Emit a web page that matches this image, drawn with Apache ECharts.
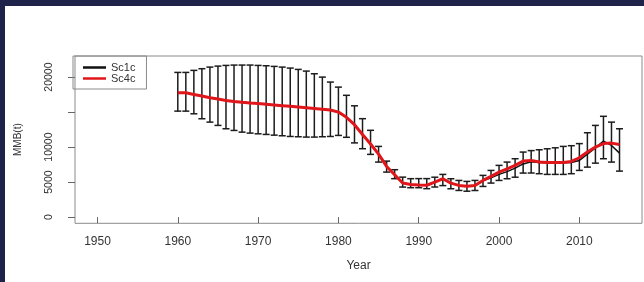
<!DOCTYPE html>
<html>
<head>
<meta charset="utf-8">
<script src="https://cdn.jsdelivr.net/npm/echarts@6.0.0/dist/echarts.min.js"></script>
<style>
  html, body { margin: 0; padding: 0; background: #1f2249; overflow: hidden; }
  #chart { position: absolute; left: 5px; top: 6px; width: 640px; height: 276px; background: #fff; }
</style>
</head>
<body>
<div id="chart"></div>
<script>
const years = [1960, 1961, 1962, 1963, 1964, 1965, 1966, 1967, 1968, 1969,
  1970, 1971, 1972, 1973, 1974, 1975, 1976, 1977, 1978, 1979,
  1980, 1981, 1982, 1983, 1984, 1985, 1986, 1987, 1988, 1989,
  1990, 1991, 1992, 1993, 1994, 1995, 1996, 1997, 1998, 1999,
  2000, 2001, 2002, 2003, 2004, 2005, 2006, 2007, 2008, 2009,
  2010, 2011, 2012, 2013, 2014, 2015];

// Sc1c confidence interval
const upper = [20670, 20670, 20960, 21200, 21430, 21570, 21670, 21720, 21720, 21720,
  21670, 21620, 21530, 21430, 21290, 21100, 20860, 20480, 20000, 19290,
  18570, 17400, 15900, 14060, 12400, 10100, 8000, 6770, 5710, 5490,
  5500, 5500, 5700, 6100, 5480, 5240, 5100, 5240, 5960, 6670,
  7390, 7860, 8340, 9290, 9500, 9620, 9760, 9900, 10100, 10200,
  10500, 12050, 13100, 14400, 13570, 12620];
const lower = [15140, 15140, 14760, 14050, 13570, 13100, 12620, 12380, 12140, 12000,
  11900, 11810, 11710, 11620, 11520, 11480, 11430, 11430, 11480, 11520,
  11670, 11400, 10600, 9770, 8960, 7860, 6430, 5490, 4290, 4200,
  4200, 4060, 4300, 4500, 4050, 3810, 3700, 3800, 4380, 4860,
  5240, 5480, 5700, 6290, 6300, 6200, 6100, 6100, 6100, 6200,
  6670, 7140, 7710, 8340, 7860, 6570];

const sc1c = [17760, 17760, 17520, 17290, 17050, 16860, 16670, 16520, 16400, 16300,
  16220, 16120, 16020, 15920, 15820, 15720, 15620, 15520, 15420, 15300,
  15000, 14250, 13200, 11800, 10450, 9000, 7240, 6060, 4860, 4670,
  4600, 4550, 5000, 5480, 4860, 4530, 4400, 4500, 5200, 5600,
  6100, 6500, 7000, 7600, 7900, 7800, 7750, 7750, 7750, 7800,
  8100, 9000, 9900, 10860, 10240, 9140];
const sc4c = [17760, 17760, 17520, 17290, 17050, 16860, 16670, 16520, 16400, 16300,
  16220, 16120, 16020, 15920, 15820, 15720, 15620, 15520, 15420, 15300,
  15000, 14250, 13200, 11800, 10450, 9000, 7240, 6060, 4860, 4670,
  4600, 4550, 5000, 5480, 4860, 4530, 4400, 4500, 5240, 5810,
  6430, 6900, 7390, 8000, 8100, 7860, 7800, 7800, 7800, 7950,
  8480, 9290, 10000, 10500, 10570, 10380];

const xTicks = [1950, 1960, 1970, 1980, 1990, 2000, 2010];
const yTicks = [0, 5000, 10000, 15000, 20000];
const yLabels = [0, 5000, 10000, 20000];

const chart = echarts.init(document.getElementById('chart'));
const font = 'Liberation Sans, Arial, sans-serif';

const option = {
  animation: false,
  grid: {
    left: 68, top: 50, right: 3, bottom: 58.7,
    show: true, borderColor: '#8a8a8a', borderWidth: 1
  },
  legend: {
    left: 68, top: 50,
    orient: 'vertical',
    data: ['Sc1c', 'Sc4c'],
    icon: 'rect',
    itemWidth: 23, itemHeight: 2.5,
    itemGap: 0,
    itemTextGap: 8,
    padding: [6, 11, 5, 10],
    borderColor: '#8a8a8a', borderWidth: 1,
    textStyle: { fontFamily: font, fontSize: 11, color: '#333', lineHeight: 10 }
  },
  xAxis: {
    type: 'value',
    min: 1947.2, max: 2017.8,
    name: 'Year',
    nameLocation: 'middle',
    nameGap: 36,
    nameTextStyle: { fontFamily: font, fontSize: 12, color: '#333' },
    axisLine: { show: false },
    splitLine: { show: false },
    axisTick: { show: true, length: 6, lineStyle: { color: '#666' }, customValues: xTicks },
    axisLabel: { fontFamily: font, fontSize: 12, color: '#333', margin: 12,
      customValues: xTicks, formatter: v => String(v) }
  },
  yAxis: {
    type: 'value',
    min: -885, max: 23015,
    name: 'MMB(t)',
    nameLocation: 'middle',
    nameRotate: 90,
    nameGap: 52,
    nameTextStyle: { fontFamily: font, fontSize: 10, color: '#333' },
    axisLine: { show: false },
    splitLine: { show: false },
    axisTick: { show: true, length: 7, lineStyle: { color: '#666' }, customValues: yTicks },
    axisLabel: { fontFamily: font, fontSize: 10.5, color: '#333', rotate: 90, margin: 20,
      customValues: yLabels, formatter: v => String(v) }
  },
  series: [
    {
      name: 'CI',
      type: 'custom',
      data: years.map((y, i) => [y, lower[i], upper[i]]),
      renderItem: function (params, api) {
        const lo = api.coord([api.value(0), api.value(1)]);
        const hi = api.coord([api.value(0), api.value(2)]);
        const w = 3.5;
        const st = { stroke: '#1c1c1c', lineWidth: 1.5 };
        return {
          type: 'group',
          children: [
            { type: 'line', shape: { x1: lo[0], y1: lo[1], x2: hi[0], y2: hi[1] }, style: st },
            { type: 'line', shape: { x1: lo[0] - w, y1: lo[1], x2: lo[0] + w, y2: lo[1] }, style: st },
            { type: 'line', shape: { x1: hi[0] - w, y1: hi[1], x2: hi[0] + w, y2: hi[1] }, style: st }
          ]
        };
      }
    },
    {
      name: 'Sc1c',
      type: 'line',
      data: years.map((y, i) => [y, sc1c[i]]),
      showSymbol: false,
      color: '#111',
      lineStyle: { color: '#111', width: 1.5 }
    },
    {
      name: 'Sc4c',
      type: 'line',
      data: years.map((y, i) => [y, sc4c[i]]),
      showSymbol: false,
      color: '#e0161b',
      lineStyle: { color: '#e0161b', width: 3 }
    }
  ]
};

chart.setOption(option);
</script>
</body>
</html>
